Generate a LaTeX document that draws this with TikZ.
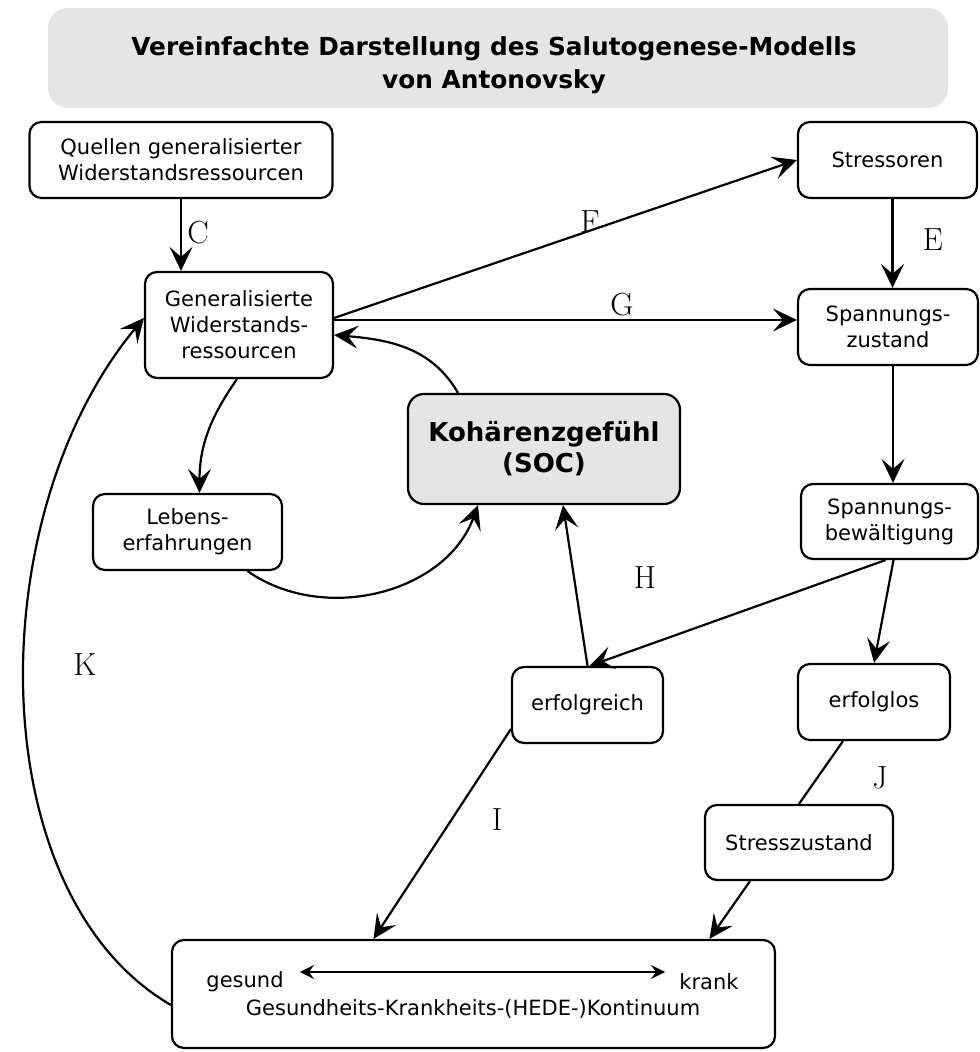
\documentclass[tikz,border=0pt]{standalone}
\usepackage{fontspec}
\newfontfamily\vfont{DejaVu Sans}
\usetikzlibrary{arrows.meta}

\begin{document}
\begin{tikzpicture}[x=0.5pt, y=0.5pt,
    box/.style={draw, line width=1.1pt, rounded corners=6pt, align=center,
                font=\vfont\fontsize{10.5}{13}\selectfont, inner sep=0pt},
    socbox/.style={box, fill=black!10, rounded corners=8pt,
                   font=\vfont\bfseries\fontsize{13}{15.5}\selectfont},
    plain/.style={font=\vfont\fontsize{10.5}{13}\selectfont, inner sep=0pt},
    lbl/.style={font=\fontsize{16}{19}\selectfont, inner sep=0pt},
    link/.style={line width=1.1pt},
    arr/.style={link, -{Stealth[length=12pt, width=11.5pt, inset=5pt]}},
    dblarr/.style={link, {Stealth[length=7pt, width=7pt, inset=2.5pt]}-{Stealth[length=7pt, width=7pt, inset=2.5pt]}}]
  \useasboundingbox (0,0) rectangle (979,1052);

  % title
  \node[fill=black!10, rounded corners=10pt, minimum width=450pt, minimum height=50pt] (titlebox) at (498,994) {};
  \node[align=center, font=\vfont\bfseries\fontsize{12.4}{16.5}\selectfont] (title) at (494,987)
    {Vereinfachte Darstellung des Salutogenese-Modells\\von Antonovsky};

  % boxes
  \node[box, minimum width=151.5pt, minimum height=38pt] (quellen) at (181,892) {Quellen generalisierter\\Widerstandsressourcen};
  \node[box, minimum width=89.5pt, minimum height=38pt] (stress) at (887.5,892) {Stressoren};
  \node[box, minimum width=94pt, minimum height=53pt] (gen) at (239,727) {Generalisierte\\Widerstands-\\ressourcen};
  \node[box, minimum width=90pt, minimum height=38pt] (spz) at (888,725) {Spannungs-\\zustand};
  \node[socbox, minimum width=136pt, minimum height=55pt] (soc) at (544,603) {Kohärenzgefühl\\(SOC)};
  \node[box, minimum width=94.5pt, minimum height=38pt] (leb) at (187.5,520) {Lebens-\\erfahrungen};
  \node[box, minimum width=88.5pt, minimum height=37.5pt] (spb) at (889.5,530.5) {Spannungs-\\bewältigung};
  \node[box, minimum width=75.5pt, minimum height=38pt] (ok) at (587.5,347) {erfolgreich};
  \node[box, minimum width=76pt, minimum height=38pt] (fail) at (874,350) {erfolglos};
  \node[box, minimum width=94pt, minimum height=37.5pt] (stz) at (799,209.5) {Stresszustand};
  \node[box, minimum width=301.5pt, minimum height=54pt] (hede) at (473.5,58) {};

  % inside the continuum box
  \node[plain] (gesund) at (245,70) {gesund};
  \node[plain] (krank) at (709,70) {krank};
  \node[plain] (kont) at (473,43) {Gesundheits-Krankheits-(HEDE-)Kontinuum};
  \draw[dblarr] ([xshift=8pt,yshift=5pt]gesund.east) -- ([xshift=-7pt,yshift=5pt]krank.west);

  % connectors
  \draw[arr] (quellen.south) -- (quellen.south |- gen.north);
  \draw[arr] ([yshift=3.5pt]gen.east) -- (stress.west);
  \draw[arr] ([yshift=2.5pt]gen.east) -- ([yshift=2.5pt]gen.east -| spz.west);
  \draw[arr] ([xshift=-43pt]soc.north) to[out=120, in=-5] ([yshift=-5pt]gen.east);
  \draw[arr] ([xshift=-1pt]gen.south) to[out=235, in=90] ([xshift=6pt]leb.north);
  \draw[arr] ([xshift=30pt]leb.south) to[out=-35, in=-110] ([xshift=-33pt]soc.south);
  \draw[arr] ([xshift=2.5pt]stress.south) -- ([xshift=2.5pt]stress.south |- spz.north);
  \draw[arr] ([xshift=2.5pt]spz.south) -- ([xshift=2.5pt]spz.south |- spb.north);
  \draw[arr] ([xshift=-2pt]spb.south) -- ([xshift=1pt]ok.north);
  \draw[arr] ([xshift=2pt]spb.south) -- (fail.north);
  \draw[arr] (ok.north) -- ([xshift=9.5pt]soc.south);
  \draw[arr] ([yshift=-12pt]ok.west) -- ([xshift=-50pt]hede.north);
  \draw[link] ([xshift=-15.5pt]fail.south) -- (stz.north);
  \draw[arr] ([xshift=-24.5pt]stz.south) -- ([xshift=118pt]hede.north);
  \draw[arr] ([yshift=-5.5pt]hede.west) .. controls (-20,158) and (-20,537) .. ([yshift=3.5pt]gen.west);

  % labels
  \node[lbl] (lc) at (198,819) {C};
  \node[lbl] (lf) at (590,830) {F};
  \node[lbl] (lg) at (622,747) {G};
  \node[lbl] (le) at (933,812) {E};
  \node[lbl] (lh) at (645,474) {H};
  \node[lbl] (lk) at (85,387) {K};
  \node[lbl] (li) at (497,232) {I};
  \node[lbl] (lj) at (880,274) {J};
\end{tikzpicture}
\end{document}
